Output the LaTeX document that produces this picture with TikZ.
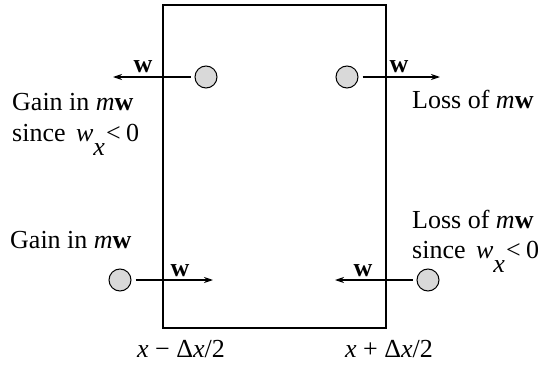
\documentclass[tikz,border=0pt]{standalone}
\usepackage{fontspec}
\setmainfont{Liberation Serif}
\usepackage{tikz}
\usetikzlibrary{positioning,arrows.meta}
\definecolor{dot}{HTML}{D9D9D9}
\newcommand{\mvec}{\textit{m}\textbf{w}}
\newcommand{\wneg}{since\hspace{0.4em}\textit{w}\raisebox{-14pt}{\textit{x}}\hspace{0.05em}<\hspace{0.2em}0}

\begin{document}
\begin{tikzpicture}[x=1pt,y=-1pt,font=\fontsize{26}{31}\selectfont,
  particle/.style={circle,draw,line width=1pt,fill=dot,minimum size=22pt,inner sep=0pt},
  flow/.style={line width=1.1pt,shorten <=4pt,-{Stealth[length=9pt,width=6pt]}},
  lbl/.style={anchor=base west,inner sep=0pt},
  vlab/.style={anchor=base,inner sep=0pt}]
  \useasboundingbox (0,0) rectangle (542,367);
  \draw[line width=1.2pt] (163,5) rectangle (386,328);
  % particles crossing the faces
  \node[particle] (p1) at (206,77) {};
  \node[particle] (p2) at (347,77) {};
  \node[particle] (p3) at (120,280) {};
  \node[particle] (p4) at (428,280) {};
  \coordinate (e1) at (113,77); \coordinate (e2) at (440,77);
  \coordinate (e3) at (213,280); \coordinate (e4) at (335,280);
  \draw[flow] (p1)--(e1); \draw[flow] (p2)--(e2);
  \draw[flow] (p3)--(e3); \draw[flow] (p4)--(e4);
  \node[vlab] (w1) at (143,72) {\textbf{w}};
  \node[vlab] (w2) at (399,72) {\textbf{w}};
  \node[vlab] (w3) at (180,276) {\textbf{w}};
  \node[vlab] (w4) at (363,276) {\textbf{w}};
  % momentum bookkeeping
  \node[lbl] (gain1) at (12,110) {Gain in \mvec};
  \node[lbl] (since1) at (12,141) {\wneg};
  \node[lbl] (loss1) at (412,108) {Loss of \mvec};
  \node[lbl] (gain2) at (10,248) {Gain in \mvec};
  \node[lbl] (loss2) at (412,228) {Loss of \mvec};
  \node[lbl] (since2) at (412,258) {\wneg};
  \node[vlab] (xl) at (181,357) {\textit{x} − Δ\textit{x}/2};
  \node[vlab] (xr) at (389,357) {\textit{x} + Δ\textit{x}/2};
\end{tikzpicture}
\end{document}
